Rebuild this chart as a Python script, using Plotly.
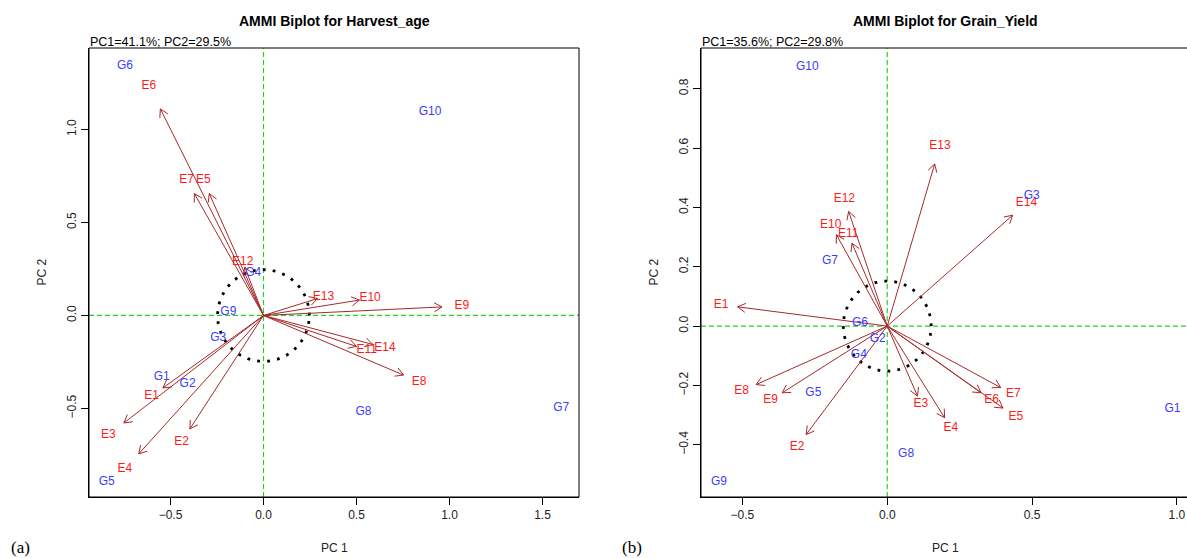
import math
import plotly.graph_objects as go

# ---------------- data ----------------
gen_labels = ["G1", "G2", "G3", "G4", "G5", "G6", "G7", "G8", "G9", "G10"]
env_labels = ["E1", "E2", "E3", "E4", "E5", "E6", "E7", "E8", "E9", "E10", "E11", "E12", "E13", "E14"]

# (a) Harvest_age
ha_gen_pc1 = [-0.547, -0.408, -0.243, -0.055, -0.843, -0.745, 1.600, 0.537, -0.189, 0.895]
ha_gen_pc2 = [-0.329, -0.368, -0.123, 0.227, -0.894, 1.343, -0.499, -0.517, 0.020, 1.096]
ha_env_pc1 = [-0.601, -0.440, -0.834, -0.745, -0.324, -0.616, -0.413, 0.836, 1.066, 0.573, 0.555, -0.112, 0.322, 0.653]
ha_env_pc2 = [-0.433, -0.678, -0.642, -0.827, 0.728, 1.234, 0.728, -0.356, 0.051, 0.092, -0.185, 0.289, 0.101, -0.173]
ha_x_ticks = [-0.5, 0.0, 0.5, 1.0, 1.5]
ha_y_ticks = [-0.5, 0.0, 0.5, 1.0]
ha_circle_r = 0.247
ha_title = "AMMI Biplot for Harvest_age"
ha_sub = "PC1=41.1%; PC2=29.5%"

# (b) Grain_Yield
gy_gen_pc1 = [0.985, -0.033, 0.499, -0.098, -0.255, -0.094, -0.198, 0.065, -0.581, -0.276]
gy_gen_pc2 = [-0.281, -0.045, 0.437, -0.099, -0.225, 0.011, 0.220, -0.432, -0.526, 0.874]
gy_env_pc1 = [-0.574, -0.311, 0.116, 0.220, 0.444, 0.360, 0.435, -0.503, -0.403, -0.195, -0.135, -0.148, 0.182, 0.481]
gy_env_pc2 = [0.072, -0.406, -0.262, -0.343, -0.307, -0.250, -0.230, -0.219, -0.250, 0.342, 0.310, 0.429, 0.607, 0.415]
gy_x_ticks = [-0.5, 0.0, 0.5, 1.0]
gy_y_ticks = [-0.4, -0.2, 0.0, 0.2, 0.4, 0.6, 0.8]
gy_circle_r = 0.152
gy_title = "AMMI Biplot for Grain_Yield"
gy_sub = "PC1=35.6%; PC2=29.8%"

# ---------------- layout geometry ----------------
W, H = 1187, 558
FONT = "Liberation Sans, Arial, sans-serif"
ARROW_COL = "#A52A2A"
GEN_COL = "#3c3cff"
ENV_COL = "#ff1a1a"
GREEN = "#22d022"
TIP_FRAC = 0.9
HEAD_LEN = 9.0
HEAD_ANG = math.radians(30)
TXT = 12

panels = [
    dict(px=(89, 579), py=(48, 497), xr=(-0.938, 1.696), yr=(-0.976, 1.438),
         gx=ha_gen_pc1, gy=ha_gen_pc2, ex=ha_env_pc1, ey=ha_env_pc2,
         xt=ha_x_ticks, yt=ha_y_ticks, r=ha_circle_r, title=ha_title, sub=ha_sub, tag="(a)", tagx=20,
         box_right=579),
    dict(px=(701, 1187), py=(48, 497), xr=(-0.643, 1.035), yr=(-0.576, 0.937),
         gx=gy_gen_pc1, gy=gy_gen_pc2, ex=gy_env_pc1, ey=gy_env_pc2,
         xt=gy_x_ticks, yt=gy_y_ticks, r=gy_circle_r, title=gy_title, sub=gy_sub, tag="(b)", tagx=632,
         box_right=1190),
]

fig = go.Figure()
annotations = []
shapes = []

for i, p in enumerate(panels, start=1):
    xa = "x" if i == 1 else f"x{i}"
    ya = "y" if i == 1 else f"y{i}"
    sx = (p["px"][1] - p["px"][0]) / (p["xr"][1] - p["xr"][0])
    sy = (p["py"][1] - p["py"][0]) / (p["yr"][1] - p["yr"][0])

    # reference lines at 0 (green dashed)
    fig.add_trace(go.Scatter(x=[p["xr"][0], p["xr"][1], None, 0, 0], y=[0, 0, None, p["yr"][0], p["yr"][1]],
                             mode="lines", xaxis=xa, yaxis=ya, hoverinfo="skip", showlegend=False,
                             line=dict(color=GREEN, width=1.2, dash="5px,3px")))

    # dotted circle
    n = 181
    cx = [p["r"] * math.cos(2 * math.pi * k / (n - 1)) for k in range(n)]
    cy = [p["r"] * math.sin(2 * math.pi * k / (n - 1)) for k in range(n)]
    fig.add_trace(go.Scatter(x=cx, y=cy, mode="lines", xaxis=xa, yaxis=ya, hoverinfo="skip",
                             line=dict(color="black", width=2.8, dash="2.8px,7.2px"), showlegend=False))

    # environment arrows
    ax_, ay_ = [], []
    for x, y in zip(p["ex"], p["ey"]):
        tx, ty = x * TIP_FRAC, y * TIP_FRAC
        dxp, dyp = tx * sx, ty * sy
        L = math.hypot(dxp, dyp)
        ux, uy = dxp / L, dyp / L
        ax_ += [0, tx, None]
        ay_ += [0, ty, None]
        for s in (1, -1):
            c, sn = math.cos(s * HEAD_ANG), math.sin(s * HEAD_ANG)
            rx = ux * c - uy * sn
            ry = ux * sn + uy * c
            hx = tx - HEAD_LEN * rx / sx
            hy = ty - HEAD_LEN * ry / sy
            ax_ += [hx, tx, None]
            ay_ += [hy, ty, None]
    fig.add_trace(go.Scatter(x=ax_, y=ay_, mode="lines", xaxis=xa, yaxis=ya, hoverinfo="skip",
                             line=dict(color=ARROW_COL, width=1), showlegend=False))

    # labels
    fig.add_trace(go.Scatter(x=p["ex"], y=p["ey"], text=env_labels, mode="text", xaxis=xa, yaxis=ya,
                             hoverinfo="skip",
                             textfont=dict(family=FONT, size=TXT, color=ENV_COL), showlegend=False))
    fig.add_trace(go.Scatter(x=p["gx"], y=p["gy"], text=gen_labels, mode="text", xaxis=xa, yaxis=ya,
                             hoverinfo="skip",
                             textfont=dict(family=FONT, size=TXT, color=GEN_COL), showlegend=False))

    xdom = [p["px"][0] / W, p["px"][1] / W]
    ydom = [1 - p["py"][1] / H, 1 - p["py"][0] / H]
    axis_common = dict(showgrid=False, zeroline=False, showline=True, mirror=False, linecolor="black",
                       linewidth=1, ticks="outside", ticklen=7, tickcolor="black", tickwidth=1,
                       tickfont=dict(family=FONT, size=TXT, color="#222"), tickformat=".1f")
    fig.update_layout(**{
        ("xaxis" if i == 1 else f"xaxis{i}"): dict(domain=xdom, range=list(p["xr"]), tickvals=p["xt"],
                                                    anchor=ya, **axis_common),
        ("yaxis" if i == 1 else f"yaxis{i}"): dict(domain=ydom, range=list(p["yr"]), tickvals=p["yt"],
                                                    anchor=xa, tickangle=-90, **axis_common),
    })

    # box around the plotting region
    shapes.append(dict(type="rect", xref="paper", yref="paper",
                       x0=p["px"][0] / W, x1=p["box_right"] / W, y0=1 - p["py"][1] / H, y1=1 - p["py"][0] / H,
                       line=dict(color="black", width=1), fillcolor="rgba(0,0,0,0)", layer="above"))

    cxp = (p["px"][0] + p["box_right"]) / 2
    cyp = (p["py"][0] + p["py"][1]) / 2
    annotations += [
        dict(text=f"<b>{p['title']}</b>", x=cxp / W, y=1 - 21 / H, xref="paper", yref="paper",
             showarrow=False, xanchor="center", yanchor="middle",
             font=dict(family=FONT, size=14, color="black")),
        dict(text=p["sub"], x=p["px"][0] / W, y=1 - 41.5 / H, xref="paper", yref="paper",
             showarrow=False, xanchor="left", yanchor="middle", xshift=-1,
             font=dict(family=FONT, size=12.5, color="black")),
        dict(text="PC 1", x=cxp / W, y=1 - 548 / H, xref="paper", yref="paper",
             showarrow=False, xanchor="center", yanchor="middle",
             font=dict(family=FONT, size=TXT, color="#222")),
        dict(text="PC 2", x=(p["px"][0] - 48) / W, y=1 - cyp / H, xref="paper", yref="paper",
             showarrow=False, xanchor="center", yanchor="middle", textangle=-90,
             font=dict(family=FONT, size=TXT, color="#222")),
        dict(text=p["tag"], x=p["tagx"] / W, y=1 - 547 / H, xref="paper", yref="paper",
             showarrow=False, xanchor="center", yanchor="middle",
             font=dict(family="Liberation Serif, Times New Roman, serif", size=17, color="black")),
    ]

fig.update_layout(width=W, height=H, margin=dict(l=0, r=0, t=0, b=0),
                  paper_bgcolor="white", plot_bgcolor="white",
                  annotations=annotations, shapes=shapes, showlegend=False)

fig.write_html("out.html", config={"displayModeBar": False},
               post_script="document.body.style.margin='0';document.body.style.overflow='hidden';")
